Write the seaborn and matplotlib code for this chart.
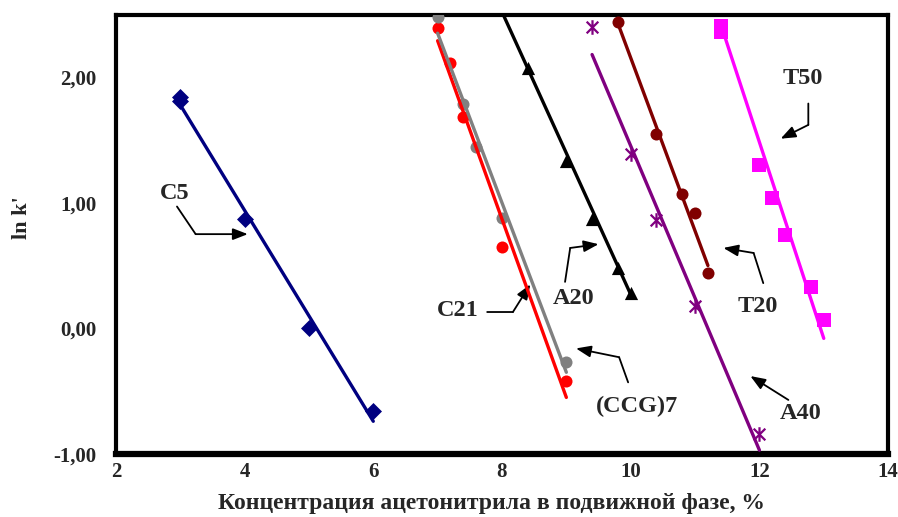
import numpy as np
import pandas as pd
import seaborn as sns
import matplotlib.pyplot as plt
from matplotlib.path import Path

# Значения: ln k' от концентрации ацетонитрила, %
c5_x = [3, 3, 4, 5, 6]
c5_y = [1.84, 1.81, 0.87, 0.00, -0.66]
c21_x = [7.0, 7.2, 7.4, 8.0, 9.0]
c21_y = [2.39, 2.11, 1.68, 0.65, -0.42]
ccg7_x = [7.0, 7.4, 7.6, 8.0, 9.0]
ccg7_y = [2.48, 1.79, 1.44, 0.88, -0.27]
a20_x = [8.4, 9.0, 9.4, 9.8, 10.0]
a20_y = [2.07, 1.33, 0.87, 0.48, 0.28]
t20_x = [9.8, 10.4, 10.8, 11.0, 11.2]
t20_y = [2.44, 1.55, 1.07, 0.92, 0.44]
a40_x = [9.4, 10.0, 10.4, 11.0, 12.0]
a40_y = [2.40, 1.39, 0.86, 0.18, -0.84]
t50_x = [11.4, 11.4, 12.0, 12.2, 12.4, 12.8, 13.0]
t50_y = [2.41, 2.36, 1.30, 1.04, 0.74, 0.33, 0.07]

# линии тренда (начало и конец)
c5_trend = ([3.0, 6.0], [1.78, -0.74])
c21_trend = ([7.0, 9.0], [2.29, -0.55])
ccg7_trend = ([7.0, 9.0], [2.35, -0.35])
a20_trend = ([8.0, 10.0], [2.52, 0.27])
t20_trend = ([9.8, 11.2], [2.43, 0.50])
a40_trend = ([9.4, 12.0], [2.18, -0.97])
t50_trend = ([11.4, 13.0], [2.42, -0.08])

x_ticks = [2, 4, 6, 8, 10, 12, 14]
y_ticks = [-1, 0, 1, 2]
y_ticklabels = ['-1,00', '0,00', '1,00', '2,00']

# звёздочка как в Excel: крестик + вертикальная черта
star = Path([(-1, -1), (1, 1), (-1, 1), (1, -1), (0, -1.25), (0, 1.25)],
            [Path.MOVETO, Path.LINETO, Path.MOVETO, Path.LINETO, Path.MOVETO, Path.LINETO])

series = [
    ('C5', c5_x, c5_y, c5_trend, '#000080', 'D', 75),
    ('C21', c21_x, c21_y, c21_trend, '#FF0000', 'o', 75),
    ('(CCG)7', ccg7_x, ccg7_y, ccg7_trend, '#808080', 'o', 75),
    ('A20', a20_x, a20_y, a20_trend, '#000000', '^', 90),
    ('T20', t20_x, t20_y, t20_trend, '#800000', 'o', 75),
    ('A40', a40_x, a40_y, a40_trend, '#800080', star, 110),
    ('T50', t50_x, t50_y, t50_trend, '#FF00FF', 's', 100),
]

sns.set_style('white')
plt.rcParams['font.family'] = ['Liberation Serif', 'DejaVu Serif']
plt.rcParams['font.weight'] = 'bold'

fig = plt.figure(figsize=(8.98, 5.17), dpi=100)
ax = fig.add_axes([0.129, 0.122, 0.860, 0.849])

for name, xs, ys, trend, color, marker, size in series:
    df = pd.DataFrame({'x': xs, 'y': ys})
    if marker is star:
        sns.scatterplot(data=df, x='x', y='y', ax=ax, marker=marker, s=size,
                        color=color, linewidth=1.6, edgecolor=color, zorder=3)
    else:
        sns.scatterplot(data=df, x='x', y='y', ax=ax, marker=marker, s=size,
                        color=color, edgecolor=color, linewidth=0, zorder=3)
    tr = pd.DataFrame({'x': trend[0], 'y': trend[1]})
    sns.lineplot(data=tr, x='x', y='y', ax=ax, color=color, linewidth=2.4,
                 zorder=4, estimator=None, sort=False)

ax.set_xlim(2, 14)
ax.set_ylim(-1, 2.495)
ax.set_xticks(x_ticks)
ax.set_xticklabels([str(t) for t in x_ticks])
ax.set_yticks(y_ticks)
ax.set_yticklabels(y_ticklabels)
ax.tick_params(axis='x', direction='out', length=4, width=2.5, labelsize=15, pad=1.5)
ax.tick_params(axis='y', direction='out', length=5, width=1, labelsize=15, pad=9)
for lab in ax.get_xticklabels() + ax.get_yticklabels():
    lab.set_fontweight('bold')

for side, lw in [('left', 3), ('top', 3), ('right', 3), ('bottom', 4.5)]:
    ax.spines[side].set_visible(True)
    ax.spines[side].set_color('black')
    ax.spines[side].set_linewidth(lw)

ax.set_xlabel('Концентрация ацетонитрила в подвижной фазе, %', fontsize=17,
              fontweight='bold')
ax.xaxis.set_label_coords(0.486, -0.088)
ax.set_ylabel("ln k'", fontsize=16, fontweight='bold')
ax.yaxis.set_label_coords(-0.108, 0.538)

# подписи со стрелками
arrow = dict(arrowstyle='-|>,head_length=0.9,head_width=0.35', color='black', lw=1.3,
             shrinkA=0, shrinkB=0)
plain = dict(arrowstyle='-', color='black', lw=1.3, shrinkA=0, shrinkB=0)

def label(text, pos, path, size=17.5):
    ax.text(pos[0], pos[1], text, ha='center', va='center', fontsize=size,
            fontweight='bold', zorder=5)
    for a, b in zip(path[:-2], path[1:-1]):
        ax.annotate('', xy=b, xytext=a, arrowprops=plain)
    ax.annotate('', xy=path[-1], xytext=path[-2], arrowprops=arrow)

label('C5', (2.92, 1.07), [(2.95, 0.97), (3.24, 0.75), (4.05, 0.75)])
label('C21', (7.32, 0.14), [(7.77, 0.13), (8.17, 0.13), (8.44, 0.35)])
label('A20', (9.11, 0.24), [(8.98, 0.37), (9.06, 0.64), (9.50, 0.67)])
label('(CCG)7', (10.1, -0.62), [(9.96, -0.43), (9.82, -0.23), (9.15, -0.16)])
label('T20', (11.97, 0.17), [(12.06, 0.36), (11.91, 0.60), (11.44, 0.64)])
label('A40', (12.64, -0.68), [(12.45, -0.57), (11.86, -0.38)])
label('T50', (12.67, 1.99), [(12.76, 1.79), (12.76, 1.62), (12.33, 1.51)])

fig.savefig('out.png', dpi=100)
